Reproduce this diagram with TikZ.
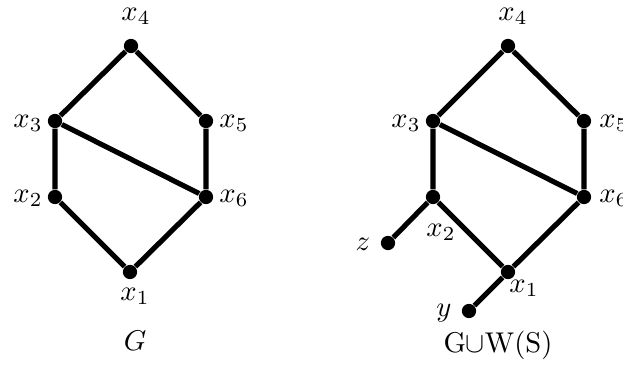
\documentclass[tikz,border=0pt]{standalone}
\begin{document}
\begin{tikzpicture}[x=0.35pt,y=-0.35pt,
  vtx/.style={circle,fill=black,inner sep=0pt,minimum size=5pt},
  edge/.style={line width=1.8pt},
  lbl/.style={inner sep=0pt}]
\useasboundingbox (0,0) rectangle (623,374);
% left graph G
\node[vtx] (a4) at (131,46) {};
\node[vtx] (a3) at (55,121) {};
\node[vtx] (a5) at (206,121) {};
\node[vtx] (a2) at (55,197) {};
\node[vtx] (a6) at (206,197) {};
\node[vtx] (a1) at (130,272) {};
\draw[edge] (a1) -- (a2) -- (a3) -- (a4) -- (a5) -- (a6) -- (a1);
\draw[edge] (a3) -- (a6);
\node[lbl] (la4) at (136,16) {$x_4$};
\node[lbl] (la3) at (28,123) {$x_3$};
\node[lbl] (la5) at (234,123) {$x_5$};
\node[lbl] (la2) at (28,198) {$x_2$};
\node[lbl] (la6) at (234,198) {$x_6$};
\node[lbl] (la1) at (135,296) {$x_1$};
\node[lbl] (lg) at (135,341) {$G$};
% right graph
\node[vtx] (b4) at (508,46) {};
\node[vtx] (b3) at (433,121) {};
\node[vtx] (b5) at (584,121) {};
\node[vtx] (b2) at (433,197) {};
\node[vtx] (b6) at (584,197) {};
\node[vtx] (b1) at (508,272) {};
\node[vtx] (bz) at (388,243) {};
\node[vtx] (by) at (469,311) {};
\draw[edge] (b1) -- (b2) -- (b3) -- (b4) -- (b5) -- (b6) -- (b1);
\draw[edge] (b3) -- (b6);
\draw[edge] (b2) -- (bz);
\draw[edge] (b1) -- (by);
\node[lbl] (lb4) at (513,16) {$x_4$};
\node[lbl] (lb3) at (406,123) {$x_3$};
\node[lbl] (lb5) at (614,123) {$x_5$};
\node[lbl] (lb2) at (441,232) {$x_2$};
\node[lbl] (lb6) at (614,198) {$x_6$};
\node[lbl] (lb1) at (524,288) {$x_1$};
\node[lbl] (lbz) at (363,244) {$z$};
\node[lbl] (lby) at (444,313) {$y$};
\node[lbl] (lgw) at (498,345) {G$\cup$W(S)};
\end{tikzpicture}
\end{document}
